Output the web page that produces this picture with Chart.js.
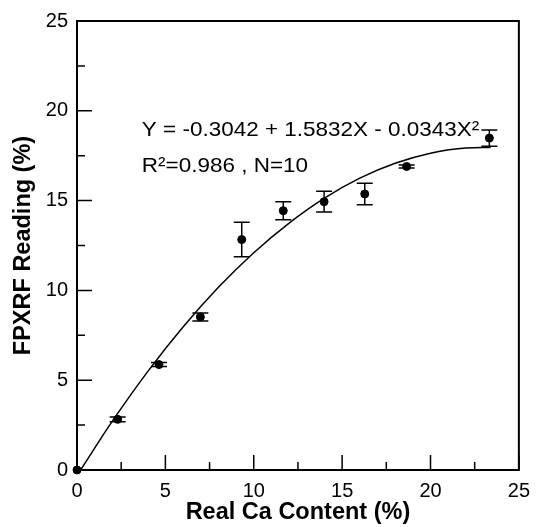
<!DOCTYPE html>
<html>
<head>
<meta charset="utf-8">
<script src="https://cdn.jsdelivr.net/npm/chart.js@4/dist/chart.umd.min.js"></script>
<style>
  html, body { margin: 0; padding: 0; background: #fff; }
  #wrap { width: 539px; height: 527px; }
</style>
</head>
<body>
<div id="wrap"><canvas id="chart" width="539" height="527"></canvas></div>
<script>
// measured points (real Ca content vs FPXRF reading)
const realCa = [0, 2.3, 4.64, 6.98, 9.32, 11.67, 13.98, 16.28, 18.65, 23.33];
const fpxrf = [0, 2.82, 5.87, 8.52, 12.83, 14.44, 14.94, 15.37, 16.9, 18.48];
const fpxrfErr = [0, 0.13, 0.11, 0.22, 0.96, 0.5, 0.58, 0.6, 0.08, 0.45];

// fitted curve
const fitX = [0.2, 2, 4, 6, 8, 10, 12, 14, 16, 18, 20, 22, 23.4];
const fitY = [0, 2.72, 5.48, 7.96, 10.17, 12.1, 13.75, 15.14, 16.25, 17.08, 17.64, 17.93, 17.96];

const majorTicks = [0, 5, 10, 15, 20, 25];
const minorTicks = [2.5, 7.5, 12.5, 17.5, 22.5];

const eqLines = ['Y = -0.3042 + 1.5832X - 0.0343X²', 'R²=0.986 , N=10'];

const FONT = '"Liberation Sans", Arial, sans-serif';

const extras = {
  id: 'extras',
  afterDatasetsDraw(chart) {
    const { ctx, chartArea: a, scales: { x, y } } = chart;
    ctx.save();
    ctx.strokeStyle = '#000';

    // error bars
    ctx.lineWidth = 1.5;
    realCa.forEach((v, i) => {
      if (!fpxrfErr[i]) return;
      const px = x.getPixelForValue(v);
      const top = y.getPixelForValue(fpxrf[i] + fpxrfErr[i]);
      const bot = y.getPixelForValue(fpxrf[i] - fpxrfErr[i]);
      ctx.beginPath();
      ctx.moveTo(px, top); ctx.lineTo(px, bot);
      ctx.moveTo(px - 8, top); ctx.lineTo(px + 8, top);
      ctx.moveTo(px - 8, bot); ctx.lineTo(px + 8, bot);
      ctx.stroke();
    });

    // frame
    ctx.lineWidth = 2;
    ctx.strokeRect(a.left, a.top, a.right - a.left, a.bottom - a.top);

    // inward ticks on bottom and left
    ctx.lineWidth = 1.5;
    ctx.beginPath();
    majorTicks.forEach(t => {
      const px = x.getPixelForValue(t);
      ctx.moveTo(px, a.bottom); ctx.lineTo(px, a.bottom - 15);
      const py = y.getPixelForValue(t);
      ctx.moveTo(a.left, py); ctx.lineTo(a.left + 15, py);
    });
    minorTicks.forEach(t => {
      const px = x.getPixelForValue(t);
      ctx.moveTo(px, a.bottom); ctx.lineTo(px, a.bottom - 8);
      const py = y.getPixelForValue(t);
      ctx.moveTo(a.left, py); ctx.lineTo(a.left + 8, py);
    });
    ctx.stroke();

    // equation text (the original font runs a bit wide)
    ctx.fillStyle = '#000';
    ctx.font = '21px ' + FONT;
    ctx.textBaseline = 'middle';
    ctx.textAlign = 'left';
    const sx = 1.07;
    [[eqLines[0], 18.9], [eqLines[1], 16.9]].forEach(([txt, yv]) => {
      ctx.save();
      ctx.translate(x.getPixelForValue(3.67), y.getPixelForValue(yv));
      ctx.scale(sx, 1);
      ctx.fillText(txt, 0, 0);
      ctx.restore();
    });
    ctx.restore();
  }
};

new Chart(document.getElementById('chart'), {
  type: 'scatter',
  data: {
    datasets: [
      {
        label: 'fit',
        data: fitX.map((v, i) => ({ x: v, y: fitY[i] })),
        showLine: true,
        borderColor: '#000',
        borderWidth: 1.5,
        pointRadius: 0,
        cubicInterpolationMode: 'monotone'
      },
      {
        label: 'measured',
        data: realCa.map((v, i) => ({ x: v, y: fpxrf[i] })),
        backgroundColor: '#000',
        borderColor: '#000',
        pointRadius: 4,
        clip: false
      }
    ]
  },
  options: {
    responsive: false,
    animation: false,
    layout: { padding: { top: 20, right: 13, left: 0, bottom: 0 } },
    plugins: { legend: { display: false }, tooltip: { enabled: false } },
    scales: {
      x: {
        type: 'linear',
        min: 0, max: 25,
        afterBuildTicks: s => { s.ticks = majorTicks.map(v => ({ value: v })); },
        afterFit: s => { s.height = 57; },
        grid: { display: false, drawTicks: false },
        border: { display: false },
        ticks: { color: '#000', font: { family: FONT, size: 20 }, padding: 9, maxRotation: 0 },
        title: {
          display: true,
          text: 'Real Ca Content (%)',
          color: '#000',
          font: { family: FONT, size: 23.5, weight: 'bold' },
          padding: { top: 0, bottom: 0 }
        }
      },
      y: {
        type: 'linear',
        min: 0, max: 25,
        afterBuildTicks: s => { s.ticks = majorTicks.map(v => ({ value: v })); },
        afterFit: s => { s.width = 77; },
        grid: { display: false, drawTicks: false },
        border: { display: false },
        ticks: { color: '#000', font: { family: FONT, size: 20 }, padding: 9 },
        title: {
          display: true,
          text: 'FPXRF Reading (%)',
          color: '#000',
          font: { family: FONT, size: 23.5, weight: 'bold' },
          padding: { top: 9, bottom: 0 }
        }
      }
    }
  },
  plugins: [extras]
});
</script>
</body>
</html>
